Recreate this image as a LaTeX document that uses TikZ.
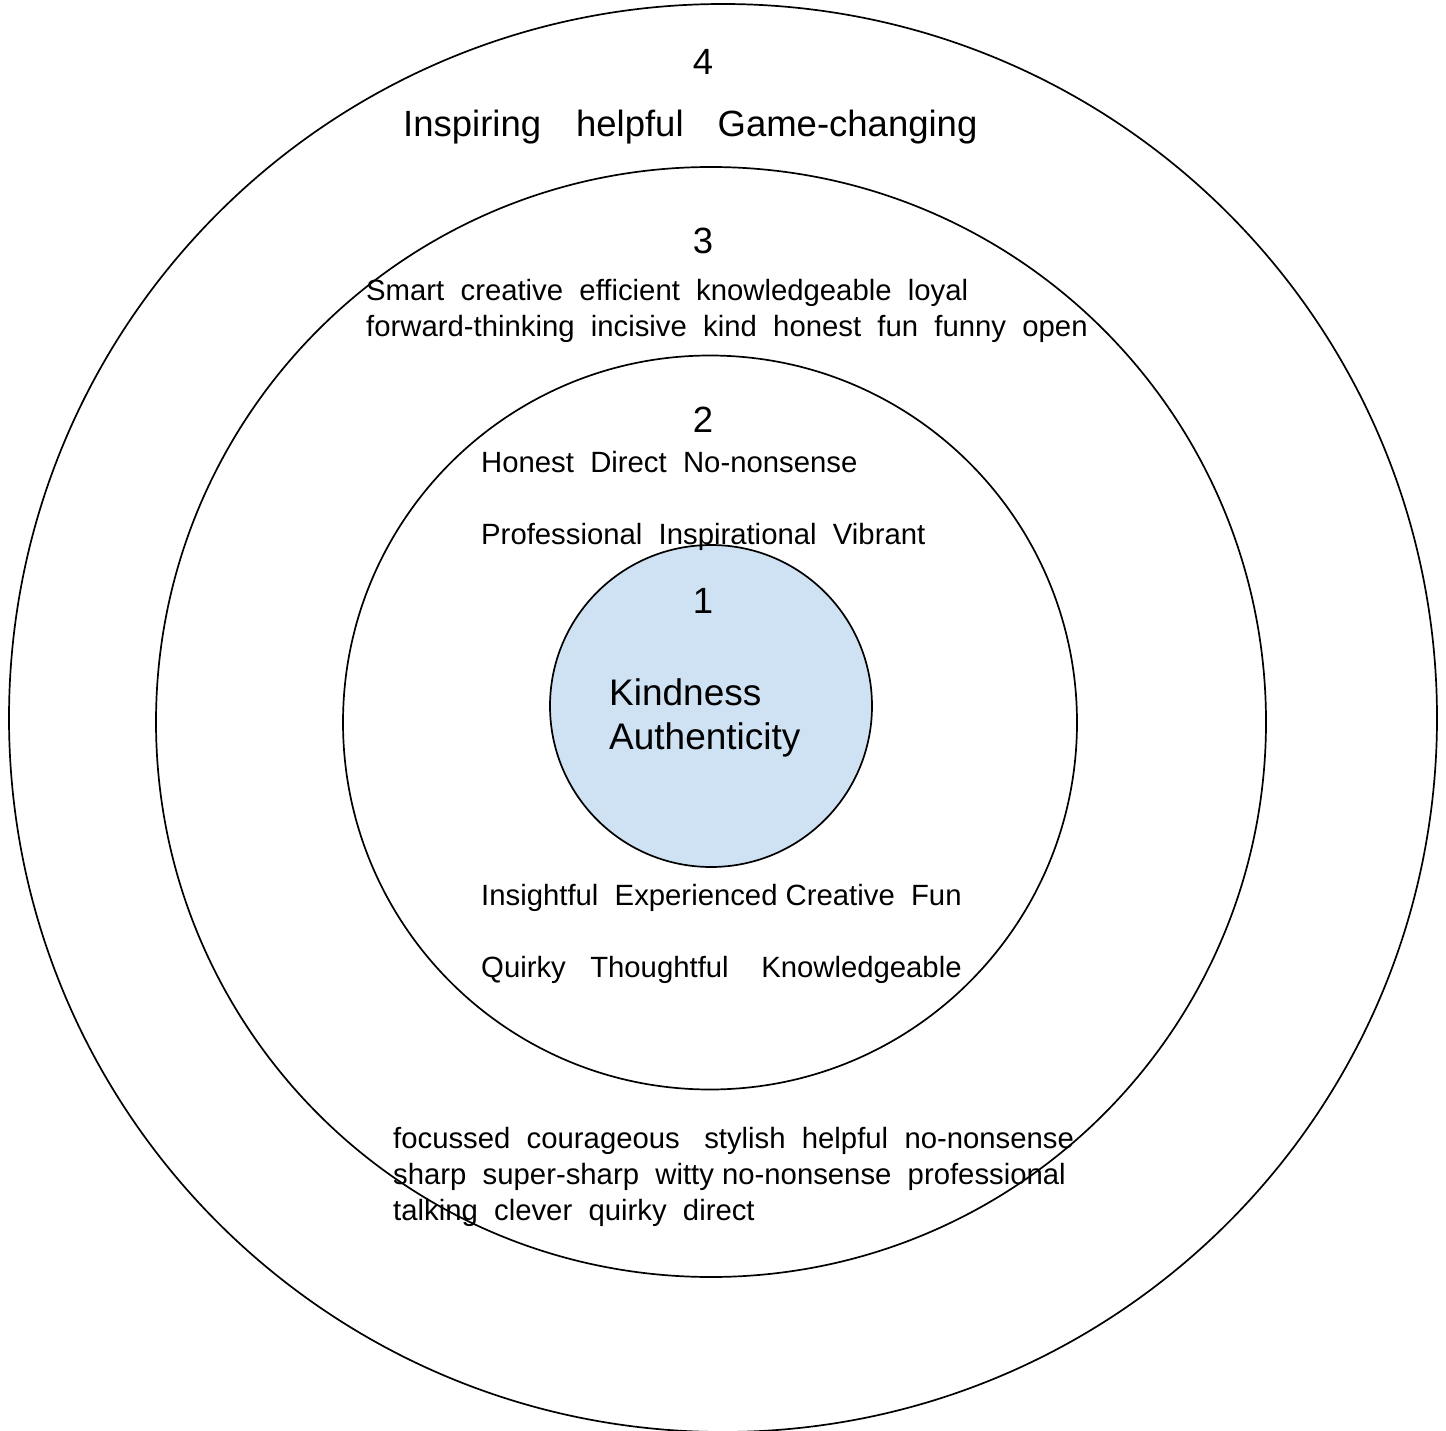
\documentclass[tikz,border=0pt]{standalone}
\usepackage{fontspec}
\setmainfont{Liberation Sans}
\definecolor{core}{HTML}{CFE2F3}
\begin{document}
\begin{tikzpicture}[x=1pt,y=-1pt,
  ring/.style={draw=black,line width=1.7pt},
  big/.style={inner sep=0pt,font=\fontsize{36.5}{42}\selectfont},
  small/.style={inner sep=0pt,font=\fontsize{29.3}{34}\selectfont,anchor=base west},
  num/.style={big,anchor=base}]
\useasboundingbox (0,0) rectangle (1446,1431);
\fill[white] (0,0) rectangle (1446,1431);
% rings
\draw[ring] (723,718) circle[radius=714];
\draw[ring] (711,722) circle[radius=555];
\draw[ring] (710,722.5) circle[radius=367];
\draw[ring,fill=core] (711,706) circle[radius=161];
% ring 4
\node[num] (n4) at (703,75) {4};
\node[big,anchor=base west] (t4) at (403,137) {Inspiring\hspace{35pt}helpful\hspace{34pt}Game-changing};
% ring 3
\node[num] (n3) at (703,254) {3};
\node[small] (t3a) at (366,301) {Smart~~creative~~efficient~~knowledgeable~~loyal};
\node[small] (t3b) at (366,337) {forward-thinking~~incisive~~kind~~honest~~fun~~funny~~open};
\node[small] (t3c) at (393,1148) {focussed~~courageous~~~stylish~~helpful~~no-nonsense};
\node[small] (t3d) at (393,1184) {sharp~~super-sharp~~witty~no-nonsense~~professional};
\node[small] (t3e) at (393,1220) {talking~~clever~~quirky~~direct};
% ring 2
\node[num] (n2) at (703,432) {2};
\node[small] (t2a) at (481,472) {Honest~~Direct~~No-nonsense};
\node[small] (t2b) at (481,544) {Professional~~Inspirational~~Vibrant};
\node[small] (t2c) at (481,905) {Insightful~~Experienced~Creative~~Fun};
\node[small] (t2d) at (481,977) {Quirky~~~Thoughtful~~~~Knowledgeable};
% ring 1
\node[num] (n1) at (703,613) {1};
\node[inner sep=0pt,font=\fontsize{37}{44}\selectfont,anchor=base west] (k1) at (609,705) {Kindness};
\node[inner sep=0pt,font=\fontsize{37}{44}\selectfont,anchor=base west] (k2) at (609,749) {Authenticity};
\end{tikzpicture}
\end{document}
